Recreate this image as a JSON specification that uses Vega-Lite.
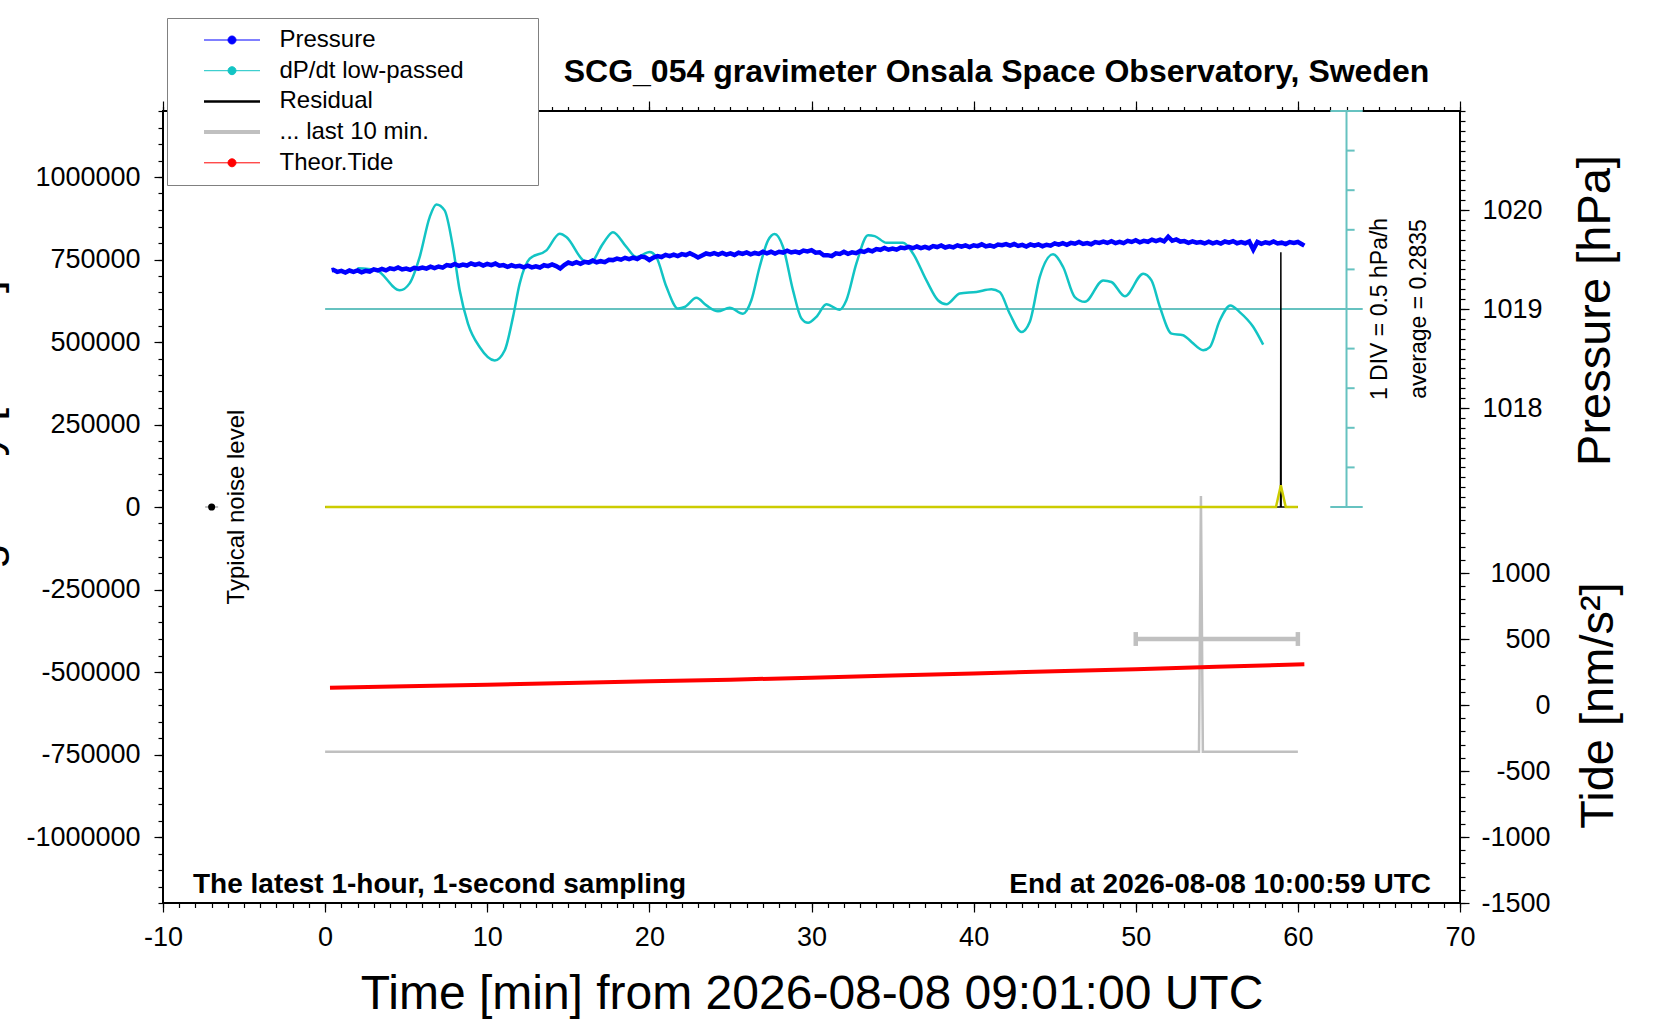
{
  "$schema": "https://vega.github.io/schema/vega-lite/v6.json",
  "description": "SCG_054 gravimeter, latest hour",
  "width": 1297,
  "height": 792,
  "autosize": "none",
  "padding": {"left": 163, "top": 111, "right": 200, "bottom": 117},
  "background": "white",
  "title": {
    "text": "SCG_054 gravimeter Onsala Space Observatory, Sweden",
    "font": "Liberation Sans",
    "fontSize": 32,
    "fontWeight": "bold",
    "color": "black",
    "anchor": "middle",
    "frame": "group",
    "baseline": "alphabetic",
    "offset": -96,
    "dx": 185
  },
  "config": {
    "font": "Liberation Sans",
    "view": {"stroke": "black", "strokeWidth": 2},
    "axis": {
      "grid": false,
      "domain": false,
      "tickColor": "black",
      "tickWidth": 1.2,
      "labelColor": "black",
      "labelFont": "Liberation Sans",
      "labelFontSize": 27,
      "labelFlush": false,
      "labelOverlap": false,
      "labelExpr": "toString(datum.value)",
      "titleColor": "black",
      "titleFont": "Liberation Sans",
      "titleFontWeight": "normal"
    }
  },
  "datasets": {
    "pressure": [
      {"t":0.4,"p":1019.392},{"t":0.5,"p":1019.396},{"t":0.75,"p":1019.375},{"t":1.0,"p":1019.385},{"t":1.25,"p":1019.368},{"t":1.5,"p":1019.389},{"t":1.75,"p":1019.376},{"t":2.0,"p":1019.39},
      {"t":2.25,"p":1019.371},{"t":2.5,"p":1019.386},{"t":2.75,"p":1019.378},{"t":3.0,"p":1019.401},{"t":3.25,"p":1019.389},{"t":3.5,"p":1019.406},{"t":3.75,"p":1019.39},{"t":4.0,"p":1019.411},
      {"t":4.25,"p":1019.402},{"t":4.5,"p":1019.42},{"t":4.75,"p":1019.4},{"t":5.0,"p":1019.409},{"t":5.25,"p":1019.396},{"t":5.5,"p":1019.416},{"t":5.75,"p":1019.408},{"t":6.0,"p":1019.419},
      {"t":6.25,"p":1019.408},{"t":6.5,"p":1019.428},{"t":6.75,"p":1019.413},{"t":7.0,"p":1019.429},{"t":7.25,"p":1019.418},{"t":7.5,"p":1019.443},{"t":7.75,"p":1019.436},{"t":8.0,"p":1019.455},
      {"t":8.25,"p":1019.435},{"t":8.5,"p":1019.449},{"t":8.75,"p":1019.439},{"t":9.0,"p":1019.461},{"t":9.25,"p":1019.445},{"t":9.5,"p":1019.458},{"t":9.75,"p":1019.439},{"t":10.0,"p":1019.456},
      {"t":10.25,"p":1019.444},{"t":10.5,"p":1019.459},{"t":10.75,"p":1019.437},{"t":11.0,"p":1019.443},{"t":11.25,"p":1019.425},{"t":11.5,"p":1019.442},{"t":11.75,"p":1019.429},{"t":12.0,"p":1019.436},
      {"t":12.25,"p":1019.421},{"t":12.5,"p":1019.438},{"t":12.75,"p":1019.42},{"t":13.0,"p":1019.432},{"t":13.25,"p":1019.419},{"t":13.5,"p":1019.442},{"t":13.75,"p":1019.433},{"t":14.0,"p":1019.45},
      {"t":14.25,"p":1019.433},{"t":14.5,"p":1019.41},{"t":14.75,"p":1019.444},{"t":15.0,"p":1019.469},{"t":15.25,"p":1019.456},{"t":15.5,"p":1019.472},{"t":15.75,"p":1019.456},{"t":16.0,"p":1019.476},
      {"t":16.25,"p":1019.469},{"t":16.5,"p":1019.489},{"t":16.75,"p":1019.472},{"t":17.0,"p":1019.483},{"t":17.25,"p":1019.474},{"t":17.5,"p":1019.498},{"t":17.75,"p":1019.494},{"t":18.0,"p":1019.509},
      {"t":18.25,"p":1019.498},{"t":18.5,"p":1019.517},{"t":18.75,"p":1019.503},{"t":19.0,"p":1019.518},{"t":19.25,"p":1019.505},{"t":19.5,"p":1019.53},{"t":19.75,"p":1019.521},{"t":20.0,"p":1019.495},
      {"t":20.25,"p":1019.519},{"t":20.5,"p":1019.534},{"t":20.75,"p":1019.525},{"t":21.0,"p":1019.547},{"t":21.25,"p":1019.534},{"t":21.5,"p":1019.55},{"t":21.75,"p":1019.534},{"t":22.0,"p":1019.554},
      {"t":22.25,"p":1019.545},{"t":22.5,"p":1019.563},{"t":22.75,"p":1019.544},{"t":23.0,"p":1019.52},{"t":23.25,"p":1019.54},{"t":23.5,"p":1019.561},{"t":23.75,"p":1019.552},{"t":24.0,"p":1019.564},
      {"t":24.25,"p":1019.55},{"t":24.5,"p":1019.566},{"t":24.75,"p":1019.549},{"t":25.0,"p":1019.561},{"t":25.25,"p":1019.546},{"t":25.5,"p":1019.568},{"t":25.75,"p":1019.556},{"t":26.0,"p":1019.572},
      {"t":26.25,"p":1019.552},{"t":26.5,"p":1019.566},{"t":26.75,"p":1019.556},{"t":27.0,"p":1019.578},{"t":27.25,"p":1019.563},{"t":27.5,"p":1019.578},{"t":27.75,"p":1019.56},{"t":28.0,"p":1019.578},
      {"t":28.25,"p":1019.57},{"t":28.5,"p":1019.589},{"t":28.75,"p":1019.571},{"t":29.0,"p":1019.581},{"t":29.25,"p":1019.568},{"t":29.5,"p":1019.59},{"t":29.75,"p":1019.582},{"t":30.0,"p":1019.594},
      {"t":30.25,"p":1019.568},{"t":30.5,"p":1019.573},{"t":30.75,"p":1019.543},{"t":31.0,"p":1019.544},{"t":31.25,"p":1019.534},{"t":31.5,"p":1019.562},{"t":31.75,"p":1019.556},{"t":32.0,"p":1019.577},
      {"t":32.25,"p":1019.558},{"t":32.5,"p":1019.572},{"t":32.75,"p":1019.564},{"t":33.0,"p":1019.586},{"t":33.25,"p":1019.576},{"t":33.5,"p":1019.596},{"t":33.75,"p":1019.583},{"t":34.0,"p":1019.606},
      {"t":34.25,"p":1019.598},{"t":34.5,"p":1019.617},{"t":34.75,"p":1019.599},{"t":35.0,"p":1019.611},{"t":35.25,"p":1019.599},{"t":35.5,"p":1019.621},{"t":35.75,"p":1019.614},{"t":36.0,"p":1019.627},
      {"t":36.25,"p":1019.614},{"t":36.5,"p":1019.631},{"t":36.75,"p":1019.615},{"t":37.0,"p":1019.628},{"t":37.25,"p":1019.614},{"t":37.5,"p":1019.636},{"t":37.75,"p":1019.626},{"t":38.0,"p":1019.642},
      {"t":38.25,"p":1019.621},{"t":38.5,"p":1019.633},{"t":38.75,"p":1019.623},{"t":39.0,"p":1019.643},{"t":39.25,"p":1019.629},{"t":39.5,"p":1019.643},{"t":39.75,"p":1019.626},{"t":40.0,"p":1019.644},
      {"t":40.25,"p":1019.635},{"t":40.5,"p":1019.653},{"t":40.75,"p":1019.633},{"t":41.0,"p":1019.642},{"t":41.25,"p":1019.63},{"t":41.5,"p":1019.651},{"t":41.75,"p":1019.644},{"t":42.0,"p":1019.656},
      {"t":42.25,"p":1019.64},{"t":42.5,"p":1019.656},{"t":42.75,"p":1019.637},{"t":43.0,"p":1019.648},{"t":43.25,"p":1019.631},{"t":43.5,"p":1019.652},{"t":43.75,"p":1019.639},{"t":44.0,"p":1019.653},
      {"t":44.25,"p":1019.634},{"t":44.5,"p":1019.649},{"t":44.75,"p":1019.64},{"t":45.0,"p":1019.663},{"t":45.25,"p":1019.65},{"t":45.5,"p":1019.665},{"t":45.75,"p":1019.649},{"t":46.0,"p":1019.668},
      {"t":46.25,"p":1019.659},{"t":46.5,"p":1019.677},{"t":46.75,"p":1019.657},{"t":47.0,"p":1019.666},{"t":47.25,"p":1019.654},{"t":47.5,"p":1019.676},{"t":47.75,"p":1019.668},{"t":48.0,"p":1019.681},
      {"t":48.25,"p":1019.667},{"t":48.5,"p":1019.684},{"t":48.75,"p":1019.666},{"t":49.0,"p":1019.679},{"t":49.25,"p":1019.665},{"t":49.5,"p":1019.688},{"t":49.75,"p":1019.677},{"t":50.0,"p":1019.694},
      {"t":50.25,"p":1019.674},{"t":50.5,"p":1019.688},{"t":50.75,"p":1019.679},{"t":51.0,"p":1019.701},{"t":51.25,"p":1019.686},{"t":51.5,"p":1019.701},{"t":51.75,"p":1019.683},{"t":52.0,"p":1019.73},
      {"t":52.25,"p":1019.689},{"t":52.5,"p":1019.703},{"t":52.75,"p":1019.681},{"t":53.0,"p":1019.686},{"t":53.25,"p":1019.668},{"t":53.5,"p":1019.683},{"t":53.75,"p":1019.67},{"t":54.0,"p":1019.676},
      {"t":54.25,"p":1019.662},{"t":54.5,"p":1019.68},{"t":54.75,"p":1019.663},{"t":55.0,"p":1019.676},{"t":55.25,"p":1019.661},{"t":55.5,"p":1019.682},{"t":55.75,"p":1019.671},{"t":56.0,"p":1019.686},
      {"t":56.25,"p":1019.664},{"t":56.5,"p":1019.675},{"t":56.75,"p":1019.664},{"t":57.0,"p":1019.683},{"t":57.25,"p":1019.6},{"t":57.5,"p":1019.678},{"t":57.75,"p":1019.658},{"t":58.0,"p":1019.674},
      {"t":58.25,"p":1019.664},{"t":58.5,"p":1019.682},{"t":58.75,"p":1019.662},{"t":59.0,"p":1019.67},{"t":59.25,"p":1019.656},{"t":59.5,"p":1019.676},{"t":59.75,"p":1019.667},{"t":60.0,"p":1019.677},
      {"t":60.25,"p":1019.654},{"t":60.4,"p":1019.64}
    ],
    "dpdt": [
      {"t":1.99,"v":0.798},{"t":3.16,"v":0.774},{"t":4.6,"v":0.519},{"t":5.2,"v":0.604},{"t":5.83,"v":0.939},{"t":6.45,"v":1.444},{"t":6.86,"v":1.604},{"t":7.37,"v":1.529},
      {"t":7.88,"v":1.069},{"t":8.3,"v":0.519},{"t":8.81,"v":0.099},{"t":9.53,"v":-0.197},{"t":10.46,"v":-0.367},{"t":11.08,"v":-0.237},{"t":11.59,"v":0.184},{"t":12.0,"v":0.604},
      {"t":12.62,"v":0.919},{"t":13.65,"v":1.024},{"t":14.47,"v":1.234},{"t":14.88,"v":1.193},{"t":15.91,"v":0.899},{"t":16.32,"v":0.859},{"t":17.14,"v":1.109},{"t":17.75,"v":1.254},
      {"t":18.58,"v":1.069},{"t":19.2,"v":0.939},{"t":20.02,"v":1.004},{"t":20.43,"v":0.939},{"t":21.05,"v":0.564},{"t":21.77,"v":0.289},{"t":22.18,"v":0.309},{"t":22.9,"v":0.424},
      {"t":23.52,"v":0.329},{"t":24.23,"v":0.254},{"t":24.95,"v":0.299},{"t":25.77,"v":0.224},{"t":26.29,"v":0.394},{"t":26.8,"v":0.814},{"t":27.32,"v":1.149},{"t":27.73,"v":1.229},
      {"t":28.24,"v":1.069},{"t":28.86,"v":0.519},{"t":29.38,"v":0.164},{"t":29.79,"v":0.109},{"t":30.3,"v":0.184},{"t":30.92,"v":0.344},{"t":31.74,"v":0.274},{"t":32.15,"v":0.394},
      {"t":32.77,"v":0.859},{"t":33.49,"v":1.214},{"t":33.9,"v":1.204},{"t":34.62,"v":1.119},{"t":35.64,"v":1.119},{"t":36.26,"v":0.984},{"t":37.09,"v":0.644},{"t":37.8,"v":0.394},
      {"t":38.32,"v":0.344},{"t":39.14,"v":0.479},{"t":40.17,"v":0.499},{"t":41.1,"v":0.534},{"t":41.61,"v":0.499},{"t":42.23,"v":0.224},{"t":42.95,"v":-0.007},{"t":43.46,"v":0.119},
      {"t":44.08,"v":0.689},{"t":44.9,"v":0.974},{"t":45.52,"v":0.814},{"t":46.24,"v":0.434},{"t":46.86,"v":0.374},{"t":47.99,"v":0.644},{"t":48.5,"v":0.624},{"t":49.33,"v":0.444},
      {"t":50.46,"v":0.729},{"t":50.97,"v":0.644},{"t":51.49,"v":0.309},{"t":52.21,"v":-0.027},{"t":52.92,"v":-0.047},{"t":53.44,"v":-0.132},{"t":54.16,"v":-0.237},{"t":54.57,"v":-0.197},
      {"t":55.18,"v":0.139},{"t":55.84,"v":0.329},{"t":56.41,"v":0.244},{"t":57.24,"v":0.059},{"t":57.86,"v":-0.167}
    ],
    "tide": [
      {"t":0.3,"n":131},{"t":5,"n":142},{"t":10,"n":154},{"t":15,"n":166},{"t":20,"n":179},{"t":25,"n":192},{"t":30,"n":207},
      {"t":35,"n":223},{"t":40,"n":239},{"t":45,"n":255},{"t":50,"n":271},{"t":55,"n":289},{"t":60.4,"n":309}
    ],
    "residual": [
      {"t":0,"g":0},{"t":58.93,"g":0},{"t":58.95,"g":772000},{"t":58.97,"g":0},{"t":60,"g":0}
    ],
    "yellow": [
      {"t":0,"g":0},{"t":58.65,"g":0},{"t":58.95,"g":66000},{"t":59.25,"g":0},{"t":60,"g":0}
    ],
    "last10": [
      {"t":0,"g":-742000},{"t":53.9,"g":-742000},{"t":54.02,"g":33000},{"t":54.14,"g":-742000},{"t":60,"g":-742000}
    ],
    "window": [{"t":50,"t2":60,"g":-400000}],
    "caps": [{"t":50,"g":-421000,"g2":-379000},{"t":60,"g":-421000,"g2":-379000}],
    "noise": [{"t":-7,"t2":-6.6,"t1":-7.4,"g":0}],
    "cyanaxis": [
      {"t":63,"t2":63,"v":-2.2165,"v2":2.7835},
      {"t":0,"t2":64,"v":0.2835,"v2":0.2835},
      {"t":62,"t2":64,"v":-2.2165,"v2":-2.2165},
      {"t":62,"t2":64,"v":2.7835,"v2":2.7835},
      {"t":63,"t2":63.5,"v":-1.7165,"v2":-1.7165},
      {"t":63,"t2":63.5,"v":-1.2165,"v2":-1.2165},
      {"t":63,"t2":63.5,"v":-0.7165,"v2":-0.7165},
      {"t":63,"t2":63.5,"v":-0.2165,"v2":-0.2165},
      {"t":63,"t2":63.5,"v":0.7835,"v2":0.7835},
      {"t":63,"t2":63.5,"v":1.2835,"v2":1.2835},
      {"t":63,"t2":63.5,"v":1.7835,"v2":1.7835},
      {"t":63,"t2":63.5,"v":2.2835,"v2":2.2835}
    ],
    "cyantext": [
      {"t":65.47,"v":0.2835,"label":"1 DIV = 0.5 hPa/h"},
      {"t":67.93,"v":0.2835,"label":"average = 0.2835"}
    ]
  },
  "encoding": {
    "x": {"field": "t", "type": "quantitative", "scale": {"domain": [-10, 70], "nice": false, "zero": false}, "axis": null}
  },
  "layer": [
    {
      "data": {"name": "last10"},
      "mark": {"type": "line", "strokeWidth": 2.5},
      "encoding": {
        "x": {"field": "t", "type": "quantitative", "scale": {"domain": [-10, 70], "nice": false, "zero": false},
          "axis": {"orient": "bottom", "values": [-10,-9,-8,-7,-6,-5,-4,-3,-2,-1,0,1,2,3,4,5,6,7,8,9,10,11,12,13,14,15,16,17,18,19,20,21,22,23,24,25,26,27,28,29,30,31,32,33,34,35,36,37,38,39,40,41,42,43,44,45,46,47,48,49,50,51,52,53,54,55,56,57,58,59,60,61,62,63,64,65,66,67,68,69,70], "tickSize": 4.5, "labels": false, "title": null}},
        "y": {"field": "g", "type": "quantitative", "scale": {"domain": [-1200000, 1200000], "nice": false, "zero": false},
          "axis": {"orient": "left", "values": [-1200000,-1150000,-1100000,-1050000,-1000000,-950000,-900000,-850000,-800000,-750000,-700000,-650000,-600000,-550000,-500000,-450000,-400000,-350000,-300000,-250000,-200000,-150000,-100000,-50000,0,50000,100000,150000,200000,250000,300000,350000,400000,450000,500000,550000,600000,650000,700000,750000,800000,850000,900000,950000,1000000,1050000,1100000,1150000,1200000], "tickSize": 5, "labels": false, "title": null}},
        "color": {"datum": "... last 10 min.", "type": "nominal"}
      }
    },
    {
      "data": {"name": "window"},
      "mark": {"type": "rule", "strokeWidth": 4.5, "color": "#c0c0c0"},
      "encoding": {
        "x": {"field": "t", "type": "quantitative", "scale": {"domain": [-10, 70], "nice": false, "zero": false},
          "axis": {"orient": "top", "values": [-10,-9,-8,-7,-6,-5,-4,-3,-2,-1,0,1,2,3,4,5,6,7,8,9,10,11,12,13,14,15,16,17,18,19,20,21,22,23,24,25,26,27,28,29,30,31,32,33,34,35,36,37,38,39,40,41,42,43,44,45,46,47,48,49,50,51,52,53,54,55,56,57,58,59,60,61,62,63,64,65,66,67,68,69,70], "tickSize": 4.5, "labels": false, "title": null}},
        "x2": {"field": "t2"},
        "y": {"field": "g", "type": "quantitative", "scale": {"domain": [-1200000, 1200000], "nice": false, "zero": false}, "axis": null}
      }
    },
    {
      "data": {"name": "caps"},
      "mark": {"type": "rule", "strokeWidth": 4.5, "color": "#c0c0c0"},
      "encoding": {
        "y": {"field": "g", "type": "quantitative", "scale": {"domain": [-1200000, 1200000], "nice": false, "zero": false}, "axis": null},
        "y2": {"field": "g2"}
      }
    },
    {
      "data": {"name": "cyanaxis"},
      "mark": {"type": "rule", "strokeWidth": 2, "color": "#66c2c0"},
      "encoding": {
        "x2": {"field": "t2"},
        "y": {"field": "v", "type": "quantitative", "scale": {"domain": [-7.2165, 2.7835], "nice": false, "zero": false}, "axis": null},
        "y2": {"field": "v2"}
      }
    },
    {
      "data": {"name": "dpdt"},
      "mark": {"type": "line", "strokeWidth": 2.5, "interpolate": "monotone"},
      "encoding": {
        "y": {"field": "v", "type": "quantitative", "scale": {"domain": [-7.2165, 2.7835], "nice": false, "zero": false}, "axis": null},
        "color": {"datum": "dP/dt low-passed", "type": "nominal"}
      }
    },
    {
      "data": {"name": "residual"},
      "mark": {"type": "line", "strokeWidth": 1.5},
      "encoding": {
        "x": {"field": "t", "type": "quantitative", "scale": {"domain": [-10, 70], "nice": false, "zero": false},
          "axis": {"orient": "bottom", "values": [-10,0,10,20,30,40,50,60,70], "tickSize": 9, "labelPadding": 12,
            "title": "Time [min] from 2026-08-08 09:01:00 UTC", "titleFontSize": 48, "titleBaseline": "alphabetic", "titleAlign": "center", "titleAnchor": null, "titleX": 648.5, "titleY": 105}},
        "y": {"field": "g", "type": "quantitative", "scale": {"domain": [-1200000, 1200000], "nice": false, "zero": false},
          "axis": {"orient": "left", "values": [-1000000,-750000,-500000,-250000,0,250000,500000,750000,1000000], "tickSize": 9, "labelPadding": 14,
            "title": "Residual gravity [nm/s²]", "titleFontSize": 46, "titleAngle": 270, "titleBaseline": "alphabetic", "titleAlign": "center", "titleAnchor": null, "titleX": -165, "titleY": 409}},
        "color": {
          "datum": "Residual",
          "type": "nominal",
          "scale": {
            "domain": ["Pressure", "dP/dt low-passed", "Residual", "... last 10 min.", "Theor.Tide"],
            "range": ["#0000ff", "#12c4c4", "#000000", "#c0c0c0", "#ff0000"]
          },
          "legend": {
            "orient": "none",
            "legendX": 4,
            "legendY": -93,
            "title": null,
            "padding": 10,
            "strokeColor": "#808080",
            "fillColor": "white",
            "labelFont": "Liberation Sans",
            "labelFontSize": 24,
            "labelColor": "black",
            "labelLimit": 400,
            "symbolSize": 4,
            "symbolOffset": 43,
            "labelOffset": 35.5,
            "rowPadding": 6.7,
            "encode": {
              "symbols": {
                "update": {
                  "shape": {"signal": "datum.value === 'Residual' || datum.value === '... last 10 min.' ? 'M-28,0H28M288,0' : 'M-28,0H28M4,0A4,4,0,1,1,-4,0A4,4,0,1,1,4,0ZM288,0'"},
                  "size": {"value": 4},
                  "fill": {"scale": "color", "field": "value"},
                  "stroke": {"scale": "color", "field": "value"},
                  "strokeWidth": {"signal": "datum.value === 'Residual' ? 2.5 : datum.value === '... last 10 min.' ? 4 : 1"},
                  "opacity": {"value": 1},
                  "fillOpacity": {"value": 1},
                  "strokeOpacity": {"value": 1}
                }
              }
            }
          }
        }
      }
    },
    {
      "data": {"name": "yellow"},
      "mark": {"type": "line", "strokeWidth": 2.5, "color": "#cccc00"},
      "encoding": {
        "x": {"field": "t", "type": "quantitative", "scale": {"domain": [-10, 70], "nice": false, "zero": false},
          "axis": {"orient": "top", "values": [-10,0,10,20,30,40,50,60,70], "tickSize": 10, "labels": false, "title": null}},
        "y": {"field": "g", "type": "quantitative", "scale": {"domain": [-1200000, 1200000], "nice": false, "zero": false}, "axis": null}
      }
    },
    {
      "data": {"name": "noise"},
      "mark": {"type": "rule", "strokeWidth": 2, "color": "#c0c0c0"},
      "encoding": {
        "x": {"field": "t1", "type": "quantitative", "scale": {"domain": [-10, 70], "nice": false, "zero": false}, "axis": null},
        "x2": {"field": "t2"},
        "y": {"field": "g", "type": "quantitative", "scale": {"domain": [-1200000, 1200000], "nice": false, "zero": false}, "axis": null}
      }
    },
    {
      "data": {"name": "noise"},
      "mark": {"type": "point", "filled": true, "size": 50, "color": "black", "opacity": 1},
      "encoding": {
        "y": {"field": "g", "type": "quantitative", "scale": {"domain": [-1200000, 1200000], "nice": false, "zero": false}, "axis": null}
      }
    },
    {
      "data": {"name": "pressure"},
      "mark": {"type": "line", "strokeWidth": 4.5},
      "encoding": {
        "y": {"field": "p", "type": "quantitative", "scale": {"domain": [1013, 1021], "nice": false, "zero": false},
          "axis": {"orient": "right", "values": [1018, 1019, 1020], "tickSize": 9, "labelAlign": "left", "labelPadding": 13,
            "title": "Pressure [hPa]", "titleFontSize": 47, "titleAngle": 270, "titleBaseline": "alphabetic", "titleAlign": "center", "titleAnchor": null, "titleX": 149, "titleY": 199}},
        "color": {"datum": "Pressure", "type": "nominal"}
      }
    },
    {
      "data": {"name": "pressure"},
      "mark": {"type": "line", "opacity": 0},
      "encoding": {
        "y": {"field": "p", "type": "quantitative", "scale": {"domain": [1013, 1021], "nice": false, "zero": false},
          "axis": {"orient": "right", "values": [1017,1017.1,1017.2,1017.3,1017.4,1017.5,1017.6,1017.7,1017.8,1017.9,1018,1018.1,1018.2,1018.3,1018.4,1018.5,1018.6,1018.7,1018.8,1018.9,1019,1019.1,1019.2,1019.3,1019.4,1019.5,1019.6,1019.7,1019.8,1019.9,1020,1020.1,1020.2,1020.3,1020.4,1020.5,1020.6,1020.7,1020.8,1020.9,1021], "tickSize": 5, "labels": false, "title": null}}
      }
    },
    {
      "data": {"name": "tide"},
      "mark": {"type": "line", "strokeWidth": 4},
      "encoding": {
        "y": {"field": "n", "type": "quantitative", "scale": {"domain": [-1500, 4500], "nice": false, "zero": false},
          "axis": {"orient": "right", "values": [-1500, -1000, -500, 0, 500, 1000], "tickSize": 9, "labelAlign": "right", "labelPadding": 81,
            "title": "Tide [nm/s²]", "titleFontSize": 47, "titleAngle": 270, "titleBaseline": "alphabetic", "titleAlign": "center", "titleAnchor": null, "titleX": 152, "titleY": 594}},
        "color": {"datum": "Theor.Tide", "type": "nominal"}
      }
    },
    {
      "data": {"name": "tide"},
      "mark": {"type": "line", "opacity": 0},
      "encoding": {
        "y": {"field": "n", "type": "quantitative", "scale": {"domain": [-1500, 4500], "nice": false, "zero": false},
          "axis": {"orient": "right", "values": [-1500,-1400,-1300,-1200,-1100,-1000,-900,-800,-700,-600,-500,-400,-300,-200,-100,0,100,200,300,400,500,600,700,800,900,1000,1100,1200,1300,1400,1500], "tickSize": 5, "labels": false, "title": null}}
      }
    },
    {
      "data": {"name": "cyantext"},
      "mark": {"type": "text", "angle": 270, "align": "center", "baseline": "alphabetic", "fontSize": 23, "color": "black"},
      "encoding": {
        "y": {"field": "v", "type": "quantitative", "scale": {"domain": [-7.2165, 2.7835], "nice": false, "zero": false}, "axis": null},
        "text": {"field": "label"}
      }
    },
    {
      "data": {"values": [{"t": -5.03, "g": 0, "label": "Typical noise level"}]},
      "mark": {"type": "text", "angle": 270, "align": "center", "baseline": "alphabetic", "fontSize": 24, "color": "black"},
      "encoding": {
        "y": {"field": "g", "type": "quantitative", "scale": {"domain": [-1200000, 1200000], "nice": false, "zero": false}, "axis": null},
        "text": {"field": "label"}
      }
    },
    {
      "data": {"values": [{"t": -8.15, "g": -1170000, "label": "The latest 1-hour, 1-second sampling"}]},
      "mark": {"type": "text", "align": "left", "baseline": "alphabetic", "fontSize": 28, "fontWeight": "bold", "color": "black"},
      "encoding": {
        "y": {"field": "g", "type": "quantitative", "scale": {"domain": [-1200000, 1200000], "nice": false, "zero": false}, "axis": null},
        "text": {"field": "label"}
      }
    },
    {
      "data": {"values": [{"t": 68.21, "g": -1170000, "label": "End at 2026-08-08 10:00:59 UTC"}]},
      "mark": {"type": "text", "align": "right", "baseline": "alphabetic", "fontSize": 28, "fontWeight": "bold", "color": "black"},
      "encoding": {
        "y": {"field": "g", "type": "quantitative", "scale": {"domain": [-1200000, 1200000], "nice": false, "zero": false}, "axis": null},
        "text": {"field": "label"}
      }
    }
  ],
  "resolve": {"scale": {"y": "independent"}, "axis": {"x": "independent", "y": "independent"}}
}
